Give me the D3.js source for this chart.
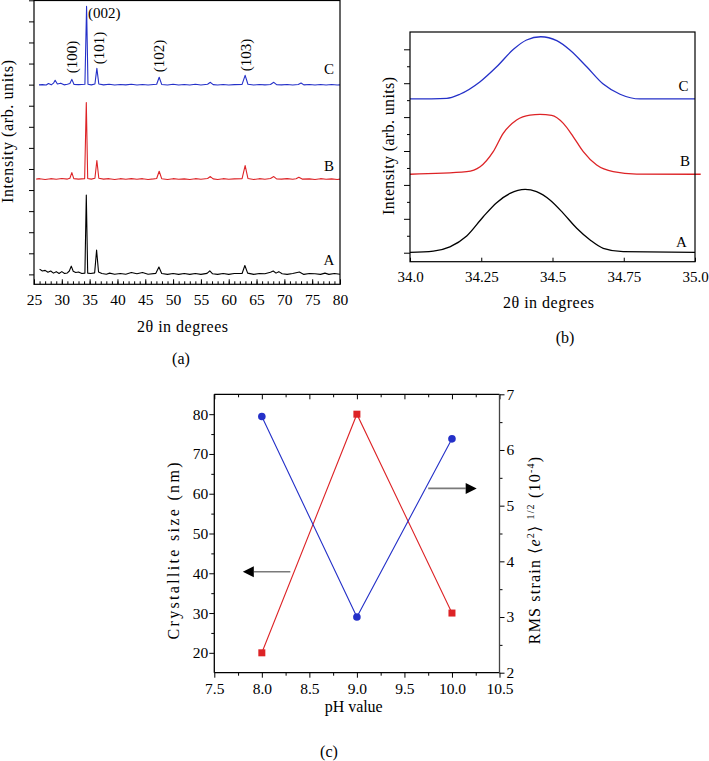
<!DOCTYPE html>
<html><head><meta charset="utf-8">
<script src="https://cdn.jsdelivr.net/npm/d3@7"></script>
<style>
body{margin:0;background:#fff}
svg text{font-family:"Liberation Serif","Times New Roman",serif;fill:#000}
</style>
</head><body>
<svg id="fig" width="709" height="761"></svg>
<script>
// ---------------- DATA ----------------
// Panel (a): XRD patterns, [2theta, intensity above own baseline] (arb. units)
const xrdSeries = ["A", "B", "C"];
const xrdOffsets = [0, 4.5, 8.97];
const xrdA = [[26.0,.25],[26.5,.16],[27.0,.19],[27.5,.1],[28.0,.16],[28.5,.06],[29.0,.13],[29.5,.04],[30.0,.13],[30.5,.04],[31.0,.07],[31.35,.16],[31.7,.39],[32.05,.15],[32.5,.09],[33.0,.11],[33.6,.04],[34.15,.06],[34.4,3.76],[34.65,.06],[35.2,.04],[35.9,.07],[36.25,1.15],[36.6,.11],[37.2,.04],[38.0,.01],[38.6,.06],[39.5,.01],[40.5,.04],[41.5,.01],[42.5,.09],[43.5,.03],[44.5,.09],[45.5,.01],[46.9,.05],[47.45,.35],[47.95,.04],[49.0,0],[50.0,.04],[51.0,0],[52.0,.04],[53.0,0],[54.0,.04],[55.0,0],[56.1,.05],[56.6,.17],[57.1,.03],[58.0,0],[59.0,.04],[60.0,0],[61.0,.04],[62.4,.04],[62.9,.42],[63.4,.06],[64.5,0],[65.5,.04],[66.5,.03],[67.5,.1],[68.0,.16],[68.5,.06],[69.0,.13],[69.6,.03],[70.5,0],[71.5,.04],[72.7,.11],[73.5,0],[74.5,.04],[75.5,.03],[76.5,0],[77.3,.06],[78.0,0],[79.0,.04],[80.0,.01]];
const xrdB = [[25.4,.02],[26.0,.04],[27.0,0],[28.0,.04],[29.0,.01],[30.0,.05],[31.0,.02],[31.45,.06],[31.8,.33],[32.15,.04],[33.0,.02],[34.1,.04],[34.4,3.65],[34.65,.05],[35.3,.02],[35.95,.06],[36.3,.9],[36.65,.06],[37.5,.02],[38.5,.04],[39.5,0],[40.5,.04],[41.5,.01],[42.5,.04],[43.5,.01],[44.5,.04],[45.5,0],[46.5,.03],[47.05,.05],[47.5,.39],[47.95,.04],[49,0],[50,.04],[51,.01],[52,.03],[53,0],[54,.04],[55,.01],[56.2,.05],[56.7,.14],[57.2,.03],[58,0],[59,.04],[60,.01],[61,.03],[62.4,.04],[62.95,.66],[63.45,.05],[64.5,0],[65.5,.04],[66.5,.01],[67.5,.05],[68.1,.14],[68.6,.03],[69.5,.02],[70.5,.04],[71.5,.01],[72.1,.04],[72.6,.11],[73.2,.02],[74.5,.03],[75.5,0],[76.5,.04],[77.5,.01],[78.5,.03],[79.5,0],[80,.02]];
const xrdC = [[25.9,.02],[26.5,.03],[27.2,.01],[27.6,.08],[28.1,.02],[28.5,.1],[28.8,.24],[29.2,.06],[29.8,.1],[30.4,.02],[31.0,.05],[31.45,.08],[31.8,.28],[32.2,.04],[33.0,.03],[34.15,.05],[34.45,3.74],[34.7,.05],[35.3,.02],[35.95,.06],[36.3,.8],[36.65,.06],[37.5,.02],[38.5,.05],[39.5,.01],[40.5,.04],[41.5,.02],[42.5,.05],[43.5,.01],[44.5,.04],[45.5,.01],[46.5,.04],[47.05,.05],[47.5,.38],[47.95,.04],[49,.01],[50,.05],[51,.01],[52,.04],[53,.01],[54,.05],[55,.01],[56.2,.05],[56.7,.14],[57.2,.03],[58,.01],[59,.04],[60,.01],[61,.03],[62.4,.04],[62.95,.47],[63.45,.05],[64.5,.01],[65.5,.04],[66.5,.02],[67.5,.04],[68.1,.14],[68.6,.03],[69.5,.02],[70.5,.04],[71.5,.01],[72.5,.04],[73.0,.11],[73.5,.02],[74.5,.04],[75.5,.01],[76.5,.04],[77.5,.01],[78.5,.04],[79.5,.01],[80,.02]];
const peakNames = ["(100)", "(002)", "(101)", "(102)", "(103)"];
const aXTicks = [25,30,35,40,45,50,55,60,65,70,75,80];

// Panel (b): (002) peak profiles, [2theta, intensity above own baseline]
const zoomOffsets = [0, 4.63, 9.07];
const zoomA = [[34.0,.02],[34.082,.1],[34.14,.35],[34.199,.99],[34.257,2.12],[34.304,2.95],[34.351,3.5],[34.404,3.74],[34.444,3.6],[34.491,3.11],[34.538,2.32],[34.585,1.44],[34.632,.75],[34.678,.26],[34.748,.06],[35.0,.02]];
const zoomB = [[34.0,0],[34.199,.15],[34.246,.44],[34.292,1.33],[34.327,2.41],[34.374,3.2],[34.421,3.49],[34.456,3.53],[34.497,3.47],[34.538,3.0],[34.573,2.21],[34.608,1.33],[34.655,.54],[34.713,.15],[34.795,.01],[35.0,0],[35.02,0]];
const zoomC = [[34.0,0],[34.129,.04],[34.175,.28],[34.246,1.02],[34.304,1.9],[34.363,2.93],[34.409,3.48],[34.459,3.67],[34.515,3.44],[34.561,2.89],[34.62,1.9],[34.678,.88],[34.737,.28],[34.807,0],[35.0,0]];
const bXTicks = [34.0, 34.25, 34.5, 34.75, 35.0];
const bXTickLabels = ["34.0", "34.25", "34.5", "34.75", "35.0"];

// Panel (c)
const phValues = [8.0, 9.0, 10.0];
const crystalliteSize = [20, 80, 30];   // nm, left axis
const rmsStrain = [6.6, 3.0, 6.2];      // 10^-4, right axis
const cXTicks = [7.5, 8.0, 8.5, 9.0, 9.5, 10.0, 10.5];
const cLeftTicks = [20, 30, 40, 50, 60, 70, 80];
const cRightTicks = [2, 3, 4, 5, 6, 7];

// ---------------- DRAWING ----------------
const SERIF = '"Liberation Serif", "Times New Roman", serif';
const svg = d3.select("#fig");
const BLACK = "#000", RED = "#dd2326", BLUE = "#2430c8";
const seriesColors = [BLACK, RED, BLUE];
const noDomain = g => g.select(".domain").remove();
const styleAxis = (g, fs) => {
  g.attr("font-family", null).attr("font-size", null);
  g.selectAll("text").style("font-size", fs + "px").style("font-family", SERIF);
  g.selectAll("line").attr("stroke", "#000");
};

// ===== Panel (a) =====
{
  const L = 34, R = 340, T = 0.5, B = 284.3;
  const x = d3.scaleLinear().domain([25, 80]).range([L, R]);
  const y = d3.scaleLinear().domain([-0.47, 13]).range([B, 0.3]);
  const g = svg.append("g");
  g.append("g").attr("transform", `translate(0,${B})`)
    .call(d3.axisBottom(x).tickValues(d3.range(25, 81, 1)).tickSize(-3).tickFormat(""))
    .call(noDomain);
  g.append("g").attr("transform", `translate(0,${B})`)
    .call(d3.axisBottom(x).tickValues(aXTicks).tickSize(-5).tickPadding(10).tickFormat(d3.format("d")))
    .call(noDomain).call(s => styleAxis(s, 15.5));
  g.append("g").attr("transform", `translate(${L},0)`)
    .call(d3.axisLeft(y).tickValues(d3.range(0, 14)).tickSize(5).tickFormat(""))
    .call(noDomain);
  const data = [xrdA, xrdB, xrdC];
  data.forEach((d, i) => {
    const line = d3.line().x(p => x(p[0])).y(p => y(p[1] + xrdOffsets[i]));
    g.append("path").attr("d", line(d)).attr("fill", "none")
      .attr("stroke", seriesColors[i]).attr("stroke-width", 1.1).attr("stroke-linejoin", "round");
  });
  g.append("rect").attr("x", L).attr("y", T).attr("width", R - L).attr("height", B - T)
    .attr("fill", "none").attr("stroke", "#000").attr("stroke-width", 1.2);
  const labY = [265, 170.7, 74];
  xrdSeries.forEach((s, i) => g.append("text").attr("x", 329).attr("y", labY[i])
    .attr("text-anchor", "middle").style("font-size", "15px").text(s));
  g.append("text").attr("x", 88).attr("y", 17.5).style("font-size", "15px").text(peakNames[1]);
  const rot = [[peakNames[0], 72, 57], [peakNames[2], 99, 48], [peakNames[3], 159, 56], [peakNames[4], 245.7, 55]];
  rot.forEach(([t, cx, cy]) => g.append("text").attr("transform", `translate(${cx},${cy}) rotate(-90)`)
    .attr("text-anchor", "middle").attr("dominant-baseline", "central").style("font-size", "15px").text(t));
  g.append("text").attr("transform", `translate(13,131.5) rotate(-90)`).attr("text-anchor", "middle")
    .style("font-size", "16px").attr("textLength", 143).attr("lengthAdjust", "spacing").text("Intensity (arb. units)");
  g.append("text").attr("x", 182.5).attr("y", 332).attr("text-anchor", "middle").style("font-size", "16px")
    .attr("textLength", 91).attr("lengthAdjust", "spacing").text("2θ in degrees");
  g.append("text").attr("x", 181).attr("y", 364).attr("text-anchor", "middle").style("font-size", "16px").text("(a)");
}

// ===== Panel (b) =====
{
  const L = 410, R = 695, T = 32, B = 261.7;
  const x = d3.scaleLinear().domain([34, 35]).range([L, R]);
  const y = d3.scaleLinear().domain([-0.53, 13]).range([B, 32.35]);
  const g = svg.append("g");
  g.append("g").attr("transform", `translate(0,${B})`)
    .call(d3.axisBottom(x).tickValues(bXTicks).tickSize(-4).tickPadding(10).tickFormat((d, i) => bXTickLabels[i]))
    .call(noDomain).call(s => styleAxis(s, 15));
  g.append("g").attr("transform", `translate(${L},0)`)
    .call(d3.axisLeft(y).tickValues(d3.range(1, 13, 2)).tickSize(3).tickFormat(""))
    .call(noDomain);
  g.append("g").attr("transform", `translate(${L},0)`)
    .call(d3.axisLeft(y).tickValues(d3.range(0, 13, 2)).tickSize(6).tickFormat(""))
    .call(noDomain);
  const data = [zoomA, zoomB, zoomC];
  data.forEach((d, i) => {
    const line = d3.line().x(p => x(p[0])).y(p => y(p[1] + zoomOffsets[i])).curve(d3.curveMonotoneX);
    g.append("path").attr("d", line(d)).attr("fill", "none")
      .attr("stroke", seriesColors[i]).attr("stroke-width", 1.3);
  });
  g.append("rect").attr("x", L).attr("y", T).attr("width", R - L).attr("height", B - T)
    .attr("fill", "none").attr("stroke", "#000").attr("stroke-width", 1.2);
  const labY = [246.7, 165.7, 91];
  const labX = [681.5, 685, 683.5];
  xrdSeries.forEach((s, i) => g.append("text").attr("x", labX[i]).attr("y", labY[i])
    .attr("text-anchor", "middle").style("font-size", "15px").text(s));
  g.append("text").attr("transform", `translate(394,146) rotate(-90)`).attr("text-anchor", "middle")
    .style("font-size", "16px").attr("textLength", 138).attr("lengthAdjust", "spacing").text("Intensity (arb. units)");
  g.append("text").attr("x", 548.5).attr("y", 307.5).attr("text-anchor", "middle").style("font-size", "16px")
    .attr("textLength", 91).attr("lengthAdjust", "spacing").text("2θ in degrees");
  g.append("text").attr("x", 565).attr("y", 342.5).attr("text-anchor", "middle").style("font-size", "16px").text("(b)");
}

// ===== Panel (c) =====
{
  const L = 214.3, R = 499.5, T = 394.3, B = 672.7;
  const x = d3.scaleLinear().domain([7.5, 10.5]).range([L, R]);
  const yL = d3.scaleLinear().domain([15, 85]).range([B, T]);
  const yR = d3.scaleLinear().domain([2, 7]).range([B, T]);
  const g = svg.append("g");
  const minorX = d3.range(7.75, 10.5, 0.5);
  g.append("g").attr("transform", `translate(0,${B})`)
    .call(d3.axisBottom(x).tickValues(minorX).tickSize(3).tickFormat("")).call(noDomain);
  g.append("g").attr("transform", `translate(0,${B})`)
    .call(d3.axisBottom(x).tickValues(cXTicks).tickSize(5).tickPadding(5).tickFormat(d3.format(".1f")))
    .call(noDomain).call(s => styleAxis(s, 15.5));
  g.append("g").attr("transform", `translate(0,${T})`)
    .call(d3.axisTop(x).tickValues(minorX).tickSize(-3).tickFormat("")).call(noDomain);
  g.append("g").attr("transform", `translate(0,${T})`)
    .call(d3.axisTop(x).tickValues(cXTicks).tickSize(-5).tickFormat("")).call(noDomain);
  g.append("g").attr("transform", `translate(${L},0)`)
    .call(d3.axisLeft(yL).tickValues(d3.range(25, 85, 10)).tickSize(3).tickFormat("")).call(noDomain);
  g.append("g").attr("transform", `translate(${L},0)`)
    .call(d3.axisLeft(yL).tickValues(cLeftTicks).tickSize(5).tickPadding(1).tickFormat(d3.format("d")))
    .call(noDomain).call(s => styleAxis(s, 15.5));
  g.append("g").attr("transform", `translate(${R},0)`)
    .call(d3.axisRight(yR).tickValues(d3.range(2.5, 7, 1)).tickSize(3).tickFormat("")).call(noDomain);
  g.append("g").attr("transform", `translate(${R},0)`)
    .call(d3.axisRight(yR).tickValues(cRightTicks).tickSize(5).tickPadding(2).tickFormat(d3.format("d")))
    .call(noDomain).call(s => styleAxis(s, 15.5));
  const frame = [[L, T, R, T, "#000"], [L, B, R, B, "#000"], [L, T, L, B, "#000"], [R, T, R, B, "#444"]];
  frame.forEach(([x1, y1, x2, y2, c]) => g.append("line").attr("x1", x1).attr("y1", y1).attr("x2", x2).attr("y2", y2)
    .attr("stroke", c).attr("stroke-width", 1.3));

  const sizePts = phValues.map((p, i) => [p, crystalliteSize[i]]);
  const strainPts = phValues.map((p, i) => [p, rmsStrain[i]]);
  g.append("path").attr("d", d3.line().x(d => x(d[0])).y(d => yL(d[1]))(sizePts))
    .attr("fill", "none").attr("stroke", RED).attr("stroke-width", 1.1);
  g.append("path").attr("d", d3.line().x(d => x(d[0])).y(d => yR(d[1]))(strainPts))
    .attr("fill", "none").attr("stroke", BLUE).attr("stroke-width", 1.1);
  g.selectAll(".sq").data(sizePts).join("rect")
    .attr("x", d => x(d[0]) - 3.5).attr("y", d => yL(d[1]) - 3.5).attr("width", 7).attr("height", 7).attr("fill", RED);
  g.selectAll(".ci").data(strainPts).join("circle")
    .attr("cx", d => x(d[0])).attr("cy", d => yR(d[1])).attr("r", 3.8).attr("fill", BLUE);

  const arrow = (x1, x2, yy) => {
    const dir = Math.sign(x2 - x1);
    const tip = x2, base = x2 - dir * 11;
    g.append("line").attr("x1", x1).attr("x2", base).attr("y1", yy).attr("y2", yy)
      .attr("stroke", "#7a7a7a").attr("stroke-width", 1.6);
    g.append("path").attr("d", `M${tip},${yy}L${base},${yy - 5.5}L${base},${yy + 5.5}Z`).attr("fill", "#000");
  };
  arrow(x(8.30), x(7.80), yL(40.4));
  arrow(x(9.75), x(10.26), yR(5.31));

  g.append("text").attr("transform", `translate(179,551) rotate(-90)`).attr("text-anchor", "middle")
    .style("font-size", "16px").attr("textLength", 177).attr("lengthAdjust", "spacing").text("Crystallite size (nm)");
  const rt = g.append("text").attr("transform", `translate(540,550) rotate(-90)`).attr("text-anchor", "middle")
    .style("font-size", "16px").style("letter-spacing", "1.2px");
  rt.append("tspan").text("RMS strain \u27E8");
  rt.append("tspan").style("font-style", "italic").text("e");
  rt.append("tspan").attr("dy", -6).style("font-size", "10px").text("2");
  rt.append("tspan").attr("dy", 6).text("\u27E9 ");
  rt.append("tspan").attr("dy", -6).style("font-size", "10px").text("1/2");
  rt.append("tspan").attr("dy", 6).text(" (10");
  rt.append("tspan").attr("dy", -6).style("font-size", "10px").text("-4");
  rt.append("tspan").attr("dy", 6).text(")");

  g.append("text").attr("x", 353.7).attr("y", 711.5).attr("text-anchor", "middle").style("font-size", "16px")
    .attr("textLength", 58).attr("lengthAdjust", "spacing").text("pH value");
  g.append("text").attr("x", 329).attr("y", 757).attr("text-anchor", "middle").style("font-size", "16px").text("(c)");
}
// make sure every label uses the serif face
svg.selectAll("text").style("font-family", SERIF);
svg.selectAll("text").filter(function(){ return this.parentNode.tagName === "text"; });
</script>
</body></html>
